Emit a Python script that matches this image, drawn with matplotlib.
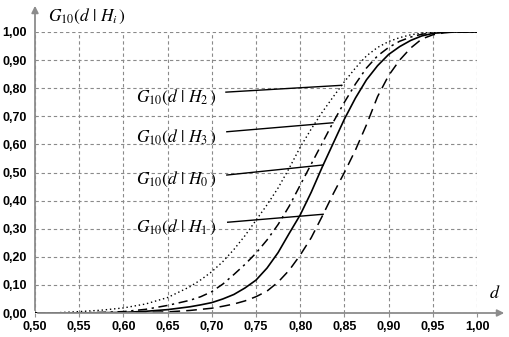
import numpy as np
import matplotlib
matplotlib.use('Agg')
import matplotlib.pyplot as plt
from matplotlib.ticker import FuncFormatter

plt.rcParams['mathtext.fontset'] = 'stix'

# values
d = [0.50, 0.525, 0.55, 0.575, 0.60, 0.625, 0.65, 0.675, 0.6875, 0.70, 0.7125,
     0.725, 0.7375, 0.75, 0.7625, 0.775, 0.7875, 0.80, 0.8125, 0.825, 0.8375,
     0.85, 0.8625, 0.875, 0.8875, 0.90, 0.9125, 0.925, 0.9375, 0.95, 0.9625,
     0.975, 1.00]
g_h2 = [0.0, 0.001, 0.005, 0.010, 0.018, 0.032, 0.055, 0.093, 0.118, 0.147, 0.183,
        0.226, 0.275, 0.33, 0.385, 0.445, 0.515, 0.59, 0.655, 0.715, 0.77,
        0.823, 0.872, 0.915, 0.945, 0.966, 0.98, 0.99, 0.996, 0.999, 1.0,
        1.0, 1.0]
g_h3 = [0.0, 0.0, 0.001, 0.002, 0.005, 0.013, 0.027, 0.045, 0.058, 0.076, 0.103,
        0.137, 0.173, 0.213, 0.26, 0.315, 0.38, 0.455, 0.53, 0.605, 0.68,
        0.75, 0.815, 0.872, 0.915, 0.945, 0.967, 0.982, 0.992, 0.997, 0.999,
        1.0, 1.0]
g_h0 = [0.0, 0.0, 0.0, 0.001, 0.002, 0.006, 0.012, 0.022, 0.029, 0.037, 0.05,
        0.066, 0.089, 0.117, 0.16, 0.215, 0.283, 0.349, 0.43, 0.52, 0.605,
        0.69, 0.765, 0.83, 0.88, 0.92, 0.948, 0.97, 0.986, 0.995, 0.999,
        1.0, 1.0]
g_h1 = [0.0, 0.0, 0.0, 0.0, 0.0, 0.002, 0.004, 0.009, 0.013, 0.017, 0.024,
        0.032, 0.043, 0.058, 0.078, 0.11, 0.152, 0.206, 0.268, 0.345, 0.425,
        0.50, 0.58, 0.67, 0.77, 0.845, 0.90, 0.943, 0.975, 0.99, 0.997,
        1.0, 1.0]

curves = [
    ('2', g_h2, (0, (1, 2)), 1.0),
    ('3', g_h3, (0, (6, 3, 1.5, 3)), 1.1),
    ('0', g_h0, '-', 1.2),
    ('1', g_h1, (0, (7, 4)), 1.1),
]

# label text anchor (x, y), leader start (x, y), leader end x on curve
label_pos = {'2': (0.706, 0.766), '3': (0.706, 0.624), '0': (0.706, 0.476), '1': (0.706, 0.303)}
leader_start = {'2': (0.716, 0.786), '3': (0.717, 0.645), '0': (0.717, 0.491), '1': (0.718, 0.323)}
leader_end_x = {'2': 0.847, '3': 0.837, '0': 0.826, '1': 0.826}


def glabel(sub):
    return r'$G_{10}(d\hspace{0.35}|\hspace{0.35}H_{%s}\hspace{0.15})$' % sub


fig = plt.figure(figsize=(5.09, 3.37), dpi=100)
ax = fig.add_axes([35 / 509, 1 - 313 / 337, 442 / 509, 281 / 337])

for key, vals, ls, lw in curves:
    ax.plot(d, vals, color='black', linestyle=ls, linewidth=lw, zorder=3)
    x1 = leader_end_x[key]
    y1 = np.interp(x1, d, vals)
    x0, y0 = leader_start[key]
    ax.plot([x0, x1], [y0, y1], color='black', linewidth=1.0, zorder=4)
    tx, ty = label_pos[key]
    ax.text(tx, ty, glabel(key), fontsize=12.5, ha='right', va='center', zorder=5)

ax.set_xlim(0.5, 1.0)
ax.set_ylim(0.0, 1.0)
ax.set_xticks(np.arange(0.5, 1.0001, 0.05))
ax.set_yticks(np.arange(0.0, 1.0001, 0.1))
fmt = FuncFormatter(lambda v, p: ('%.2f' % v).replace('.', ','))
ax.xaxis.set_major_formatter(fmt)
ax.yaxis.set_major_formatter(fmt)
for lab in ax.get_xticklabels() + ax.get_yticklabels():
    lab.set_fontfamily('Liberation Sans')
    lab.set_fontweight('bold')
    lab.set_fontsize(9)
ax.tick_params(axis='x', length=3, color='#909090', pad=3)
ax.tick_params(axis='y', length=0, pad=6)

ax.grid(True, color='#8a8a8a', linestyle=(0, (3, 2.5)), linewidth=0.8)
ax.set_axisbelow(True)
for s in ax.spines.values():
    s.set_visible(False)

# axes with arrow heads
x0f, y0f = 35 / 509, 1 - 313 / 337
ax.annotate('', xy=(507 / 509, y0f), xytext=(x0f, y0f), xycoords='figure fraction',
            arrowprops=dict(arrowstyle='-|>', color='#8c8c8c', lw=1.3, mutation_scale=10))
ax.annotate('', xy=(x0f, 1 - 3 / 337), xytext=(x0f, y0f), xycoords='figure fraction',
            arrowprops=dict(arrowstyle='-|>', color='#8c8c8c', lw=1.3, mutation_scale=10))

fig.text(48 / 509, 1 - 16 / 337, glabel('i'), fontsize=12.5, ha='left', va='center')
fig.text(495 / 509, 1 - 293 / 337, r'$d$', fontsize=13, ha='center', va='center')

fig.savefig('out.png', dpi=100)
